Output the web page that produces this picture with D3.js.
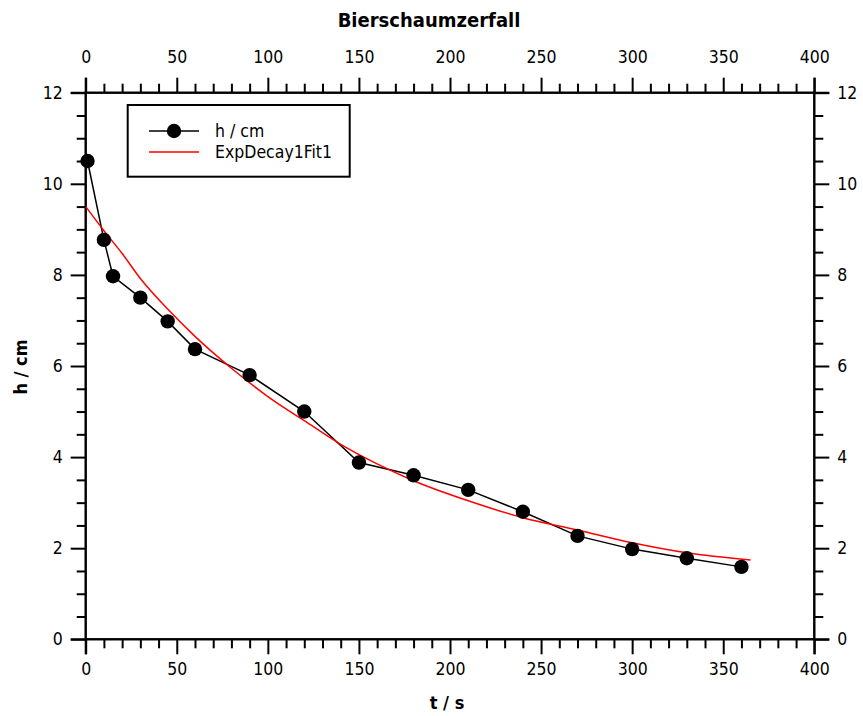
<!DOCTYPE html>
<html>
<head>
<meta charset="utf-8">
<script src="https://cdn.jsdelivr.net/npm/d3@7"></script>
<style>
  body { margin: 0; background: #fff; }
  text { font-family: Tahoma, "DejaVu Sans Condensed", "DejaVu Sans", sans-serif; fill: #000; }
</style>
</head>
<body>
<svg id="chart" width="863" height="716"></svg>
<script>
// measured foam height
var tData = [1, 10, 15, 30, 45, 60, 90, 120, 150, 180, 210, 240, 270, 300, 330, 360];
var hData = [10.5, 8.77, 7.97, 7.5, 6.98, 6.37, 5.8, 5.0, 3.88, 3.6, 3.28, 2.8, 2.27, 1.98, 1.78, 1.59];

// fit curve
var tFit = [0, 10, 20, 30, 45, 60, 80, 100, 120, 140, 160, 180, 210, 240, 270, 300, 330, 365];
var hFit = [9.5, 8.97, 8.47, 7.92, 7.25, 6.65, 5.95, 5.33, 4.8, 4.28, 3.85, 3.48, 3.04, 2.67, 2.4, 2.12, 1.9, 1.74];

var xTicks = [0, 50, 100, 150, 200, 250, 300, 350, 400];
var yTicks = [0, 2, 4, 6, 8, 10, 12];

var TITLE = "Bierschaumzerfall";
var XLABEL = "t / s";
var YLABEL = "h / cm";
var SERIES = ["h / cm", "ExpDecay1Fit1"];

var LEFT = 85.7, RIGHT = 814.3, TOP = 92.7, BOTTOM = 639.3;
var MAJOR = 15, MINOR = 9;
var FONT = 17.5;

var svg = d3.select("#chart");

var x = d3.scaleLinear().domain([0, 400]).range([LEFT, RIGHT]);
var y = d3.scaleLinear().domain([0, 12]).range([BOTTOM, TOP]);

var xMinor = d3.range(0, 401, 10).filter(function(v){ return v % 50 != 0; });
var yMinor = d3.range(0, 12.01, 0.5).filter(function(v){ return v % 2 != 0; });

function styleAxis(g) {
    g.select(".domain").remove();
    g.selectAll("line").attr("stroke", "#000").attr("stroke-width", 2);
    g.selectAll("text").style("font-size", FONT + "px");
}

// minor ticks first, then major
function addAxis(axisFn, scale, ticks, minor, pos, pad) {
    var gm = svg.append("g").attr("transform", pos)
	.call(axisFn(scale).tickValues(minor).tickSize(MINOR).tickFormat(""));
    styleAxis(gm);
    var g = svg.append("g").attr("transform", pos)
	.call(axisFn(scale).tickValues(ticks).tickSize(MAJOR).tickPadding(pad)
	      .tickFormat(d3.format("d")));
    styleAxis(g);
    return g;
}

addAxis(d3.axisBottom, x, xTicks, xMinor, "translate(0," + BOTTOM + ")", 8);
addAxis(d3.axisTop, x, xTicks, xMinor, "translate(0," + TOP + ")", 15);
addAxis(d3.axisLeft, y, yTicks, yMinor, "translate(" + LEFT + ",0)", 8);
addAxis(d3.axisRight, y, yTicks, yMinor, "translate(" + RIGHT + ",0)", 8);

// frame lines
svg.append("rect")
    .attr("x", LEFT).attr("y", TOP)
    .attr("width", RIGHT - LEFT).attr("height", BOTTOM - TOP)
    .attr("fill", "none").attr("stroke", "#000").attr("stroke-width", 2);
// axis lines poke out past the corners a bit
[LEFT, RIGHT].forEach(function(px){
    svg.append("line").attr("x1", px).attr("x2", px)
	.attr("y1", TOP - MAJOR).attr("y2", BOTTOM + MAJOR)
	.attr("stroke", "#000").attr("stroke-width", 2);
});
[TOP, BOTTOM].forEach(function(py){
    svg.append("line").attr("y1", py).attr("y2", py)
	.attr("x1", LEFT - MAJOR).attr("x2", RIGHT + MAJOR)
	.attr("stroke", "#000").attr("stroke-width", 2);
});

var pts = tData.map(function(t, i){ return [t, hData[i]]; });
var fit = tFit.map(function(t, i){ return [t, hFit[i]]; });

var line = d3.line()
    .x(function(d){ return x(d[0]); })
    .y(function(d){ return y(d[1]); });

svg.append("path")
    .attr("d", line(pts))
    .attr("fill", "none").attr("stroke", "#000").attr("stroke-width", 1.5);

svg.append("path")
    .attr("d", line.curve(d3.curveMonotoneX)(fit))
    .attr("fill", "none").attr("stroke", "#ff0000").attr("stroke-width", 1.5);

svg.append("g").selectAll("circle")
    .data(pts).enter().append("circle")
    .attr("cx", function(d){ return x(d[0]); })
    .attr("cy", function(d){ return y(d[1]); })
    .attr("r", 7.2)
    .attr("fill", "#000");

// legend
var lg = svg.append("g");
lg.append("rect")
    .attr("x", 127.7).attr("y", 105)
    .attr("width", 222).attr("height", 71.7)
    .attr("fill", "#fff").attr("stroke", "#000").attr("stroke-width", 2);
lg.append("line").attr("x1", 149).attr("x2", 199).attr("y1", 131).attr("y2", 131)
    .attr("stroke", "#000").attr("stroke-width", 1.5);
lg.append("circle").attr("cx", 174).attr("cy", 131).attr("r", 7.2).attr("fill", "#000");
lg.append("line").attr("x1", 149).attr("x2", 199).attr("y1", 152).attr("y2", 152)
    .attr("stroke", "#ff0000").attr("stroke-width", 1.5);
lg.selectAll("text.leg").data(SERIES).enter().append("text")
    .attr("class", "leg")
    .attr("x", 215)
    .attr("y", function(d, i){ return 131 + i * 21; })
    .attr("dy", "0.35em")
    .style("font-size", FONT + "px")
    .text(function(d){ return d; });

// titles
svg.append("text")
    .attr("x", 429).attr("y", 20).attr("dy", "0.35em")
    .attr("text-anchor", "middle")
    .style("font-size", "20px").style("font-weight", "bold")
    .text(TITLE);

svg.append("text")
    .attr("x", 447).attr("y", 703).attr("dy", "0.35em")
    .attr("text-anchor", "middle")
    .style("font-size", "18px").style("font-weight", "bold")
    .text(XLABEL);

svg.append("text")
    .attr("transform", "translate(21,367) rotate(-90)")
    .attr("dy", "0.35em")
    .attr("text-anchor", "middle")
    .style("font-size", "18px").style("font-weight", "bold")
    .text(YLABEL);
</script>
</body>
</html>
